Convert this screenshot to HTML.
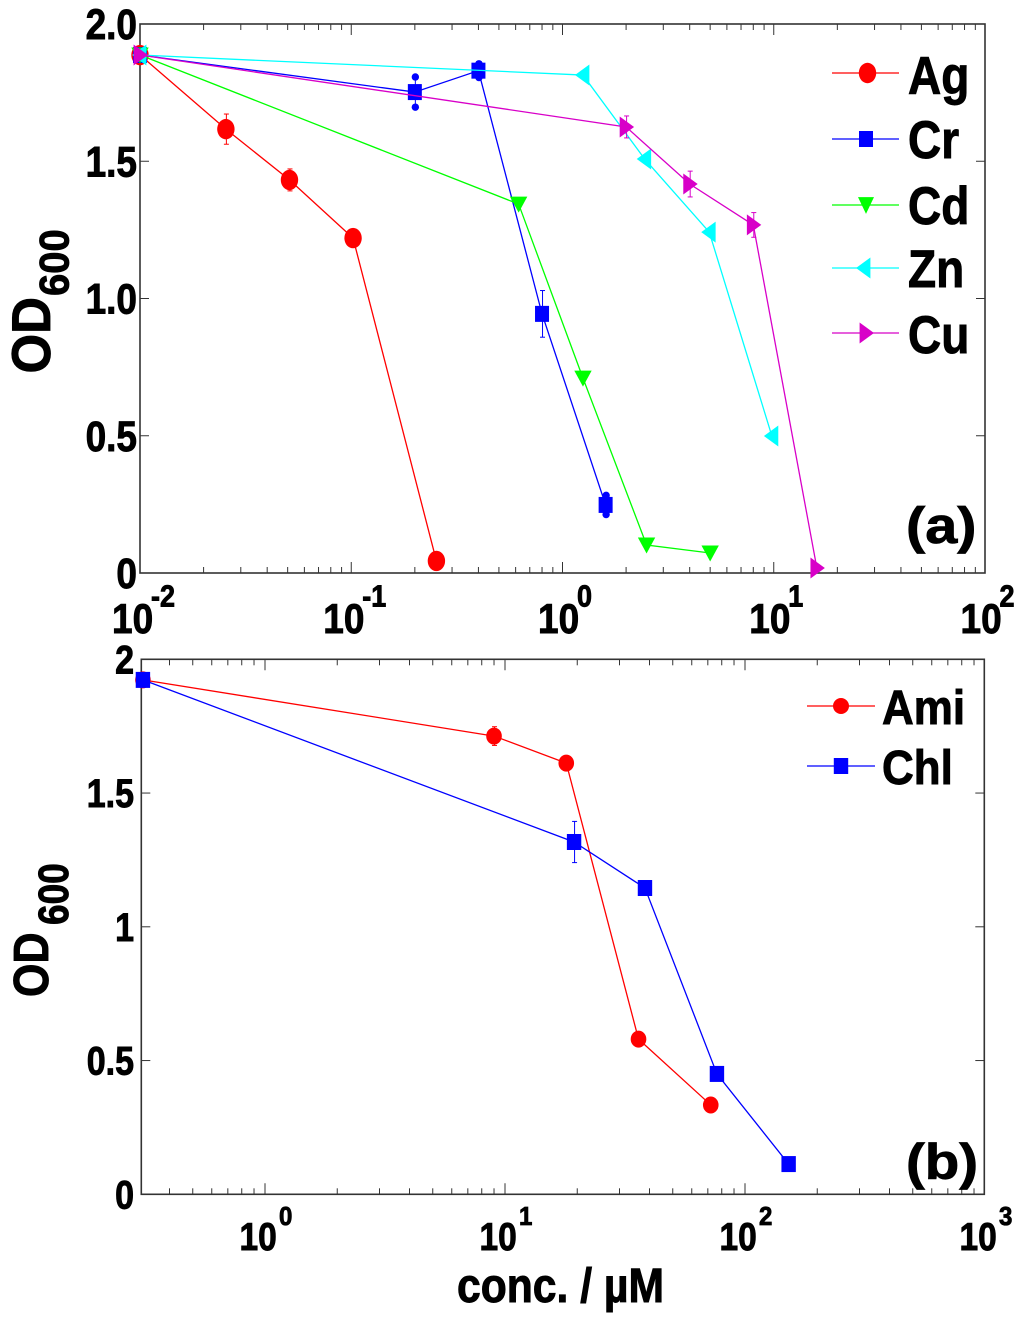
<!DOCTYPE html>
<html lang="en">
<head>
<meta charset="utf-8">
<title>OD600 versus concentration</title>
<style>
html,body{margin:0;padding:0;background:#fff;width:1024px;height:1321px;overflow:hidden}
svg{display:block;filter:blur(0.35px)}
text{font-family:"Liberation Sans",Arial,sans-serif;font-weight:bold;fill:#000}
</style>
</head>
<body>
<svg id="chart" width="1024" height="1321" viewBox="0 0 1024 1321" xmlns="http://www.w3.org/2000/svg"></svg>
<script>
// ---------- Panel (a) data ----------
const metalNames = ['Ag', 'Cr', 'Cd', 'Zn', 'Cu'];
const agConc = [0.01, 0.0255, 0.051, 0.102, 0.253];
const agOD = [1.887, 1.617, 1.432, 1.22, 0.044];
const agErr = [0, 0.055, 0.04, 0.01, 0];
const crConc = [0.01, 0.2, 0.4, 0.8, 1.6];
const crOD = [1.887, 1.752, 1.83, 0.944, 0.248];
const crErr = [0, 0.055, 0.025, 0.085, 0.035];
const cdConc = [0.01, 0.62, 1.25, 2.5, 5];
const cdOD = [1.887, 1.344, 0.71, 0.102, 0.073];
const cdErr = [0, 0, 0, 0, 0];
const znConc = [0.01, 1.25, 2.45, 4.95, 9.8];
const znOD = [1.887, 1.814, 1.508, 1.242, 0.499];
const znErr = [0, 0, 0, 0, 0];
const cuConc = [0.01, 2, 4, 8, 16];
const cuOD = [1.887, 1.625, 1.417, 1.268, 0.018];
const cuErr = [0, 0.04, 0.047, 0.045, 0];
const panelAXExponents = ['-2', '-1', '0', '1', '2'];
const panelAYTicks = [2, 1.5, 1, 0.5, 0];
const panelAYLabels = ['2.0', '1.5', '1.0', '0.5', '0'];
// ---------- Panel (b) data ----------
const drugNames = ['Ami', 'Chl'];
const amiConc = [0.31, 9, 18, 36, 72];
const amiOD = [1.923, 1.713, 1.612, 0.58, 0.334];
const amiErr = [0, 0.035, 0.01, 0, 0];
const chlConc = [0.31, 19.4, 38.3, 76.4, 152];
const chlOD = [1.923, 1.317, 1.145, 0.45, 0.113];
const chlErr = [0, 0.077, 0, 0, 0];
const panelBXExponents = ['0', '1', '2', '3'];
const panelBYTicks = [2, 1.5, 1, 0.5, 0];
const panelBYLabels = ['2', '1.5', '1', '0.5', '0'];

const svg = document.getElementById('chart');
const NS = 'http://www.w3.org/2000/svg';
function mk(parent, tag, attrs, txt) {
  const n = document.createElementNS(NS, tag);
  for (const k in attrs) n.setAttribute(k, attrs[k]);
  if (txt !== undefined) n.textContent = txt;
  parent.appendChild(n);
  return n;
}
function label(x, y, s, size, sx, sy, anchor, rot) {
  const t = 'translate(' + x + ',' + y + ')' + (rot ? ' rotate(-90)' : '') + ' scale(' + sx + ',' + sy + ')';
  return mk(svg, 'text', { transform: t, 'font-size': size, 'text-anchor': anchor || 'start', stroke: '#000', 'stroke-width': 0.8 }, s);
}

// axis functions
const xA = v => 140 + 211.25 * (Math.log10(v) + 2);
const yA = v => 573 - 274.5 * v;
const xB = v => 265 + 240 * Math.log10(v);
const yB = v => 1194.3 - 267.5 * v;

function marker(g, kind, cx, cy, color, w, h) {
  if (kind === 'circle') return mk(g, 'ellipse', { cx: cx, cy: cy, rx: w, ry: h, fill: color });
  if (kind === 'square') return mk(g, 'rect', { x: cx - w, y: cy - h, width: 2 * w, height: 2 * h, fill: color });
  let pts;
  if (kind === 'down') pts = [[cx - w, cy - h * 0.75], [cx + w, cy - h * 0.75], [cx, cy + h * 0.85]];
  if (kind === 'left') pts = [[cx - w, cy], [cx + w * 0.8, cy - h], [cx + w * 0.8, cy + h]];
  if (kind === 'right') pts = [[cx + w, cy], [cx - w * 0.8, cy - h], [cx - w * 0.8, cy + h]];
  return mk(g, 'polygon', { points: pts.map(p => p.join(',')).join(' '), fill: color });
}

function drawFrame(L, T, R, B, xt, yt, xDecades, yTicks, major, minor, yTickLen) {
  const g = mk(svg, 'g', { stroke: '#333', 'stroke-width': 1, fill: 'none' });
  
  
  mk(g, 'rect', { x: L, y: T, width: R - L, height: B - T, 'stroke-width': 1.6 });
  xDecades.forEach(e => {
    for (let m = 1; m < 10; m++) {
      const v = m * Math.pow(10, Number(e));
      const x = xt(v);
      if (x <= L + 1 || x >= R - 1) continue;
      const len = m === 1 ? major : minor;
      mk(g, 'line', { x1: x, x2: x, y1: B, y2: B - len });
      mk(g, 'line', { x1: x, x2: x, y1: T, y2: T + len });
    }
  });
  yTicks.forEach(v => {
    const y = yt(v);
    mk(g, 'line', { x1: L, x2: L + yTickLen, y1: y, y2: y });
    mk(g, 'line', { x1: R, x2: R - yTickLen, y1: y, y2: y });
  });
}

function drawSeries(name, xs, ys, errs, xt, yt, color, kind, w, h, dotCaps) {
  const g = mk(svg, 'g', {});
  
  
  mk(g, 'polyline', { points: xs.map((v, i) => xt(v) + ',' + yt(ys[i])).join(' '), fill: 'none', stroke: color, 'stroke-width': 1.3 });
  xs.forEach((v, i) => {
    if (!errs[i]) return;
    const x = xt(v) + 0.5, y1 = yt(ys[i] + errs[i]), y2 = yt(ys[i] - errs[i]);
    mk(g, 'line', { x1: x, x2: x, y1: y1, y2: y2, stroke: color, 'stroke-width': 1 });
    if (dotCaps && dotCaps[i]) {
      mk(g, 'circle', { cx: x, cy: y1, r: 3.7, fill: color });
      mk(g, 'circle', { cx: x, cy: y2, r: 3.7, fill: color });
    } else {
      mk(g, 'line', { x1: x - 2.5, x2: x + 2.5, y1: y1, y2: y1, stroke: color, 'stroke-width': 1 });
      mk(g, 'line', { x1: x - 2.5, x2: x + 2.5, y1: y2, y2: y2, stroke: color, 'stroke-width': 1 });
    }
  });
  xs.forEach((v, i) => marker(g, kind, xt(v), yt(ys[i]), color, w, h));
}

function legendEntry(name, x1, x2, mx, y, color, kind, w, h) {
  const g = mk(svg, 'g', {});
  
  
  mk(g, 'line', { x1: x1, x2: x2, y1: y, y2: y, stroke: color, 'stroke-width': 1.3 });
  marker(g, kind, mx, y, color, w, h);
}

// ---------- Panel (a) ----------
drawFrame(140, 24, 985, 573, xA, yA, ['-2', '-1', '0', '1'], panelAYTicks, 11, 6, 9);
drawSeries('series-ag', agConc, agOD, agErr, xA, yA, '#ff0000', 'circle', 8.7, 10.2);
drawSeries('series-cr', crConc, crOD, crErr, xA, yA, '#0000ff', 'square', 7, 8, [0, 1, 1, 0, 1]);
drawSeries('series-cd', cdConc, cdOD, cdErr, xA, yA, '#00ff00', 'down', 8.7, 10);
drawSeries('series-zn', znConc, znOD, znErr, xA, yA, '#00ffff', 'left', 8, 10.5);
drawSeries('series-cu', cuConc, cuOD, cuErr, xA, yA, '#d800c8', 'right', 8, 10.5);

panelAYLabels.forEach((s, i) => {
  const el = label(137, yA(panelAYTicks[i]) + 15, s, 37, 1, 1.15, 'end');
  
  
});
panelAXExponents.forEach(e => {
  const x = xA(Math.pow(10, Number(e)));
  const off = e[0] === '-' ? -28 : -24.5;
  const base = label(x + off, 633, '10', 37, 1, 1.12);
  
  
  const sup = label(x + off + 39, 606.5, e, 27, 1, 1.12);
  
  
});
const yTitleA = label(50, 373.5, 'OD', 51, 1, 1.07, 'start', true);


const yTitleASub = label(68.5, 296, '600', 40, 1, 1.05, 'start', true);


const tagA = label(906, 543, '(a)', 51, 1.13, 1, 'start');



const legendAY = [73, 139, 205, 268, 333];
const legendABase = [94, 158, 224, 287, 353];
const legendAColors = ['#ff0000', '#0000ff', '#00ff00', '#00ffff', '#d800c8'];
const legendAKinds = ['circle', 'square', 'down', 'left', 'right'];
metalNames.forEach((s, i) => {
  const dx = i === 0 ? 0.5 : (i === 1 ? -1 : (i === 2 ? -1 : (i === 3 ? -3 : -1)));
  legendEntry('legend-entry-' + s.toLowerCase(), 832, 899, 866 + dx + 1, legendAY[i], legendAColors[i], legendAKinds[i], i === 0 ? 8.7 : (i === 1 ? 7 : 8), i === 0 ? 10.2 : (i === 1 ? 8 : 10.5));
  const t = label(908, legendABase[i], s, 46, 1, 1.15);
  
  
});

// ---------- Panel (b) ----------
drawFrame(141.3, 659.3, 984.3, 1194.3, xB, yB, ['-1', '0', '1', '2'], panelBYTicks, 11, 6, 9);
drawSeries('series-ami', amiConc, amiOD, amiErr, xB, yB, '#ff0000', 'circle', 7.8, 8.5);
drawSeries('series-chl', chlConc, chlOD, chlErr, xB, yB, '#0000ff', 'square', 7.2, 8);

panelBYLabels.forEach((s, i) => {
  const el = label(134, yB(panelBYTicks[i]) + 14, s, 34, 1, 1.17, 'end');
  
  
});
panelBXExponents.forEach(e => {
  const x = xB(Math.pow(10, Number(e)));
  const base = label(x - 25.5, 1250, '10', 33.5, 1, 1.17);
  
  
  const sup = label(x + 14, 1225, e, 24, 1, 1.08);
  
  
});
const yTitleB = label(48, 997, 'OD', 43, 1, 1.15, 'start', true);


const yTitleBSub = label(68, 925, '600', 37, 1, 1.15, 'start', true);


const tagB = label(906, 1179, '(b)', 50, 1.13, 1, 'start');


const xTitle = label(457, 1302, 'conc. / \u00B5M', 41, 1.04, 1.17);



const legendBY = [706, 766];
const legendBBase = [724, 784];
const legendBColors = ['#ff0000', '#0000ff'];
const legendBKinds = ['circle', 'square'];
drugNames.forEach((s, i) => {
  legendEntry('legend-entry-' + s.toLowerCase(), 807, 875, 841, legendBY[i], legendBColors[i], legendBKinds[i], i === 0 ? 8 : 7.2, 8);
  const t = label(882, legendBBase[i], s, 44, 1, 1.1);
  
  
});
</script>
</body>
</html>
